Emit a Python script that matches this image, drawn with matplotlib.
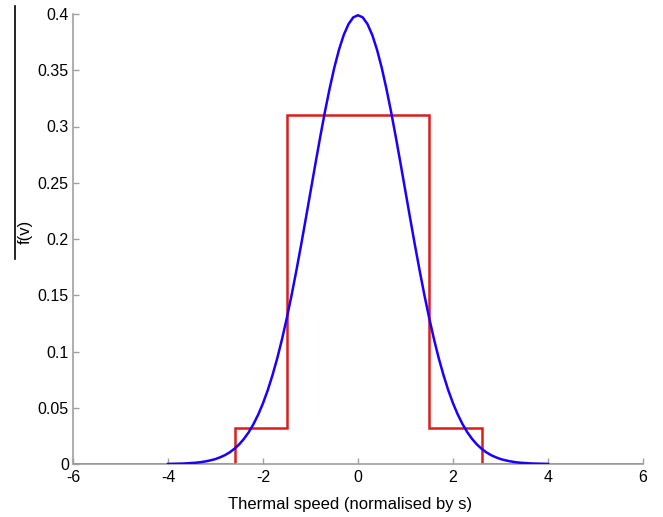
import matplotlib
matplotlib.use('Agg')
import matplotlib.pyplot as plt
from matplotlib.lines import Line2D

plt.rcParams['font.family'] = ['Liberation Sans', 'DejaVu Sans']
plt.rcParams['axes.unicode_minus'] = False

# Maxwellian (blue) at 0.1 steps
speed = [round(-4 + 0.1 * i, 1) for i in range(81)]
f_maxwell = [0.0001, 0.0002, 0.0003, 0.0004, 0.0006, 0.0009, 0.0012, 0.0017, 0.0024, 0.0033,
             0.0044, 0.0060, 0.0079, 0.0104, 0.0136, 0.0175, 0.0224, 0.0283, 0.0355, 0.0440,
             0.0540, 0.0656, 0.0790, 0.0940, 0.1109, 0.1295, 0.1497, 0.1714, 0.1942, 0.2179,
             0.2420, 0.2661, 0.2897, 0.3123, 0.3332, 0.3521, 0.3683, 0.3814, 0.3910, 0.3970,
             0.3989,
             0.3970, 0.3910, 0.3814, 0.3683, 0.3521, 0.3332, 0.3123, 0.2897, 0.2661, 0.2420,
             0.2179, 0.1942, 0.1714, 0.1497, 0.1295, 0.1109, 0.0940, 0.0790, 0.0656, 0.0540,
             0.0440, 0.0355, 0.0283, 0.0224, 0.0175, 0.0136, 0.0104, 0.0079, 0.0060, 0.0044,
             0.0033, 0.0024, 0.0017, 0.0012, 0.0009, 0.0006, 0.0004, 0.0003, 0.0002, 0.0001]

# step approximation (red)
step_edges = [-6, -2.6, -1.5, 1.5, 2.6, 6]
step_levels = [0, 0.032, 0.31, 0.032, 0]

xticks = [-6, -4, -2, 0, 2, 4, 6]
yticks = [0, 0.05, 0.1, 0.15, 0.2, 0.25, 0.3, 0.35, 0.4]
ytick_labels = ['0', '0.05', '0.1', '0.15', '0.2', '0.25', '0.3', '0.35', '0.4']

fig = plt.figure(figsize=(6.63, 5.17), dpi=100)
ax = fig.add_axes([73 / 663, 1 - 464 / 517, 570 / 663, 450 / 517])

ax.plot(speed, f_maxwell, color='#1a00ff', linewidth=1.8, zorder=3)
ax.stairs(step_levels, step_edges, baseline=None, color='#dd1c1c', linewidth=1.8, zorder=2)

ax.set_xlim(-6, 6)
ax.set_ylim(0, 0.4)
ax.set_xticks(xticks)
ax.set_xticklabels([str(t) for t in xticks])
ax.set_yticks(yticks)
ax.set_yticklabels(ytick_labels)

for side in ['top', 'right']:
    ax.spines[side].set_visible(False)
for side in ['left', 'bottom']:
    ax.spines[side].set_color('#a0a0a0')
    ax.spines[side].set_linewidth(1.2)
ax.tick_params(direction='in', length=4, width=1, color='#a0a0a0', labelsize=11.5, labelcolor='black')
ax.tick_params(axis='x', pad=4)
ax.tick_params(axis='y', pad=3)

fig.text(350 / 663, 1 - 505 / 517, 'Thermal speed (normalised by s)', ha='center', va='center', fontsize=12)
fig.text(25 / 663, 1 - 232 / 517, 'f(v)', ha='center', va='center', rotation=90, fontsize=12)
fig.add_artist(Line2D([15 / 663, 15 / 663], [1 - 6 / 517, 1 - 259 / 517], color='black', linewidth=1.2))

fig.savefig('out.png', dpi=100)
